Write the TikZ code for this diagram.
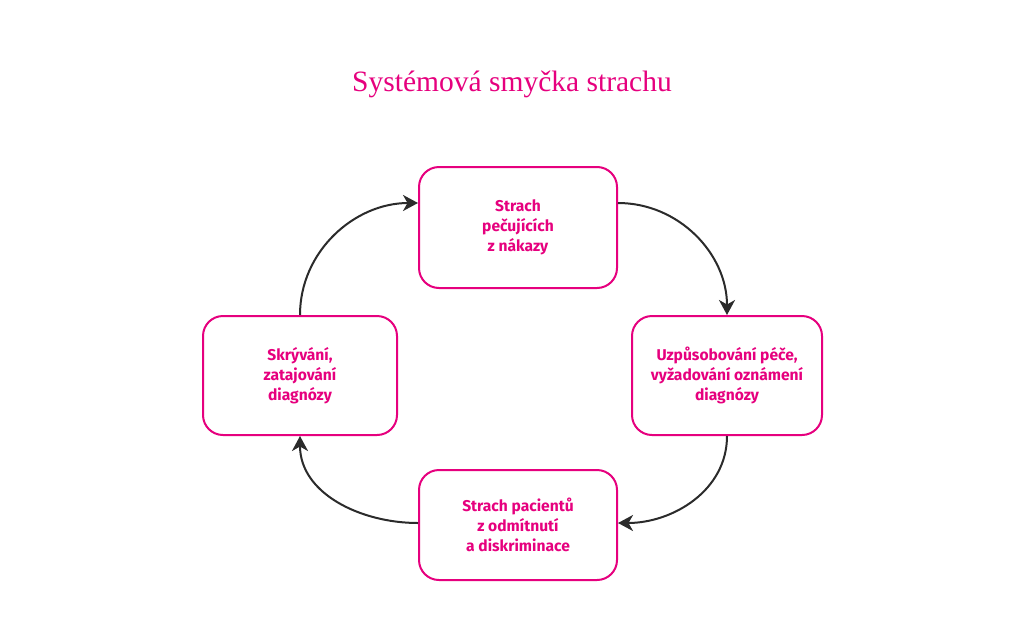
\documentclass[tikz,border=0pt]{standalone}
\usepackage{fontspec}
\usepackage{tikz}
\usetikzlibrary{arrows.meta}
\setmainfont{Liberation Serif}
\newfontfamily\boxfont{Fira Sans}
\definecolor{tmagenta}{HTML}{E6007E}
\definecolor{arrow_grey}{HTML}{2B2B2B}

\begin{document}
\begin{tikzpicture}[x=1pt,y=-1pt,
    stepbox/.style={draw=tmagenta,line width=2pt,rounded corners=20pt,align=center,
      text=tmagenta,font=\boxfont\bfseries\fontsize{15.6}{20}\selectfont,inner sep=0pt},
    flow/.style={arrow_grey,line width=2pt,-{Stealth[length=15pt,width=16pt,inset=4.5pt]}}]
    \useasboundingbox[fill=white] (0,0) rectangle (1024,624);
    \node[text=tmagenta,font=\fontsize{29.5}{34}\selectfont] (title) at (512,84) {Systémová smyčka strachu};
    \node[stepbox,minimum width=198pt,minimum height=121pt] (fear) at (518,227.5) {Strach\\pečujících\\z nákazy};
    \node[stepbox,minimum width=190pt,minimum height=119pt] (care) at (727,375.5) {Uzpůsobování péče,\\vyžadování oznámení\\diagnózy};
    \node[stepbox,minimum width=198pt,minimum height=110pt] (patients) at (518,525) {Strach pacientů\\z odmítnutí\\a diskriminace};
    \node[stepbox,minimum width=194pt,minimum height=119pt] (hiding) at (300,375.5) {Skrývání,\\zatajování\\diagnózy};
    % loop
    \draw[flow] ([yshift=24.5pt]fear.east) to[out=0,in=90] (care.north);
    \draw[flow] (care.south) to[out=-90,in=0] ([yshift=2pt]patients.east);
    \draw[flow] ([yshift=2pt]patients.west) to[out=180,in=-90] (hiding.south);
    \draw[flow] (hiding.north) to[out=90,in=180] ([yshift=24.5pt]fear.west);
\end{tikzpicture}
\end{document}
